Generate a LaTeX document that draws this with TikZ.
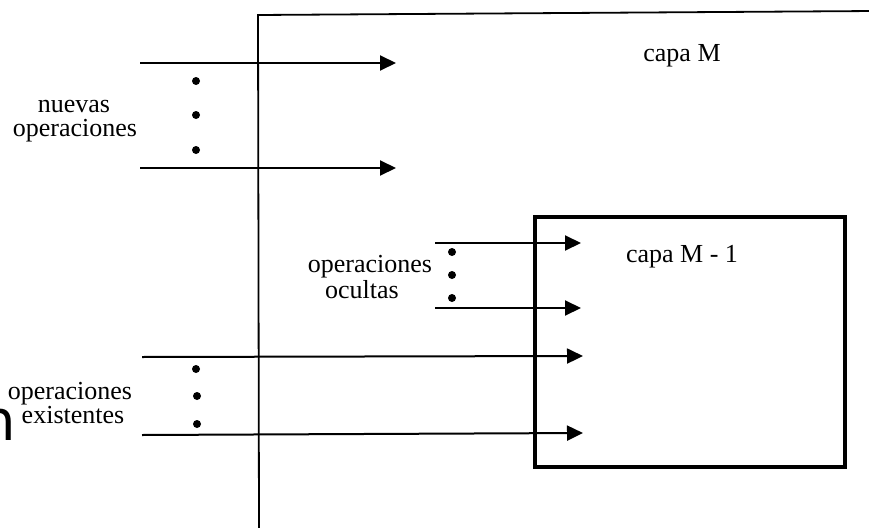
\documentclass[tikz,border=0pt]{standalone}
\usepackage{fontspec}
\setmainfont{Liberation Serif}
\newfontfamily\strayfont{DejaVu Sans}
\usetikzlibrary{arrows.meta}
\begin{document}
\begin{tikzpicture}[x=1pt,y=-1pt,
  lbl/.style={font=\fontsize{26}{27}\selectfont, inner sep=0pt, anchor=base},
  arr/.style={line width=2pt, -{Triangle[length=16pt,width=15pt]}},
  dotm/.style={circle, fill=black, inner sep=0pt, minimum size=8pt},
  layer/.style={line width=1.8pt},
  sublayer/.style={draw, line width=3.4pt, inner sep=0pt, minimum width=310pt, minimum height=250pt}]
\useasboundingbox (0,0) rectangle (869,527);
\clip (0,0) rectangle (869,527);

% layer M (open box)
\coordinate (mtl) at (258,15);
\coordinate (mbl) at (259,532);
\coordinate (mtr) at (875,11);
\draw[layer] (mbl) -- (mtl) -- (mtr);
\node[lbl] (capam) at (682,62) {capa M};

% layer M-1
\node[sublayer] (m1) at (690,342) {};
\node[lbl] (capam1) at (682,262) {capa M - 1};

% new operations
\coordinate (n1s) at (140,63);  \coordinate (n1e) at (396,63);
\coordinate (n2s) at (140,168); \coordinate (n2e) at (396,168);
\draw[arr] (n1s) -- (n1e);
\draw[arr] (n2s) -- (n2e);
\node[dotm] (nd1) at (196,81) {};
\node[dotm] (nd2) at (196,115) {};
\node[dotm] (nd3) at (196,150) {};
\node[lbl] (nl1) at (74,112) {nuevas};
\node[lbl] (nl2) at (75,136) {operaciones};

% hidden operations
\coordinate (o1s) at (435,243); \coordinate (o1e) at (581,243);
\coordinate (o2s) at (435,308); \coordinate (o2e) at (581,308);
\draw[arr] (o1s) -- (o1e);
\draw[arr] (o2s) -- (o2e);
\node[dotm] (od1) at (452,252) {};
\node[dotm] (od2) at (452,275) {};
\node[dotm] (od3) at (452,298) {};
\node[lbl] (ol1) at (370,272) {operaciones};
\node[lbl] (ol2) at (362,298) {ocultas};

% existing operations
\coordinate (e1s) at (142,357); \coordinate (e1e) at (583,356);
\coordinate (e2s) at (142,435); \coordinate (e2e) at (583,433);
\draw[arr] (e1s) -- (e1e);
\draw[arr] (e2s) -- (e2e);
\node[dotm] (ed1) at (196,369) {};
\node[dotm] (ed2) at (197,396) {};
\node[dotm] (ed3) at (197,424) {};
\node[lbl] (el1) at (70,399) {operaciones};
\node[lbl] (el2) at (73,423) {existentes};

% stray glyph at left edge
\node[inner sep=0pt, anchor=base east, font=\strayfont\fontsize{56}{56}\selectfont] (nart) at (16,440) {n};
\end{tikzpicture}
\end{document}
